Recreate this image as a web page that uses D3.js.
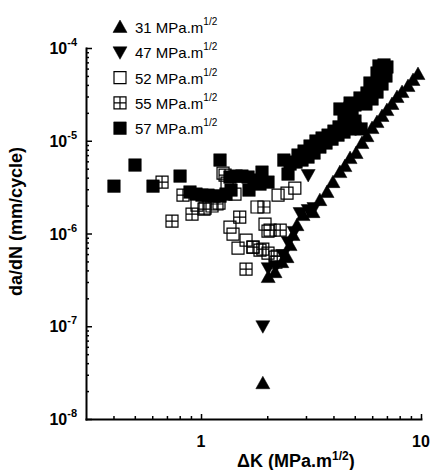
<!DOCTYPE html>
<html>
<head>
<meta charset="utf-8">
<script src="https://cdn.jsdelivr.net/npm/d3@7"></script>
<style>
  body { margin: 0; background: #fff; }
  svg { display: block; font-family: Arial, "Liberation Sans", sans-serif; }
</style>
</head>
<body>
<svg id="chart" width="432" height="470"></svg>
<script>
// dK (MPa.m^1/2), da/dN (mm/cycle)
const s31 = [
  [1.91, 2.43e-8], [2.02, 3.39e-7], [2.17, 3.83e-7], [2.33, 4.91e-7], [2.46, 5.56e-7],
  [2.54, 7.5e-7], [2.62, 9.62e-7], [2.73, 1.23e-6], [2.91, 1.58e-6], [3.23, 1.7e-6],
  [3.47, 2.29e-6], [3.74, 2.8e-6], [3.98, 3.58e-6], [4.28, 4.59e-6], [4.51, 5.33e-6],
  [4.76, 6.5e-6], [5.07, 7.37e-6], [5.39, 9.45e-6], [5.68, 1.12e-5], [5.99, 1.37e-5],
  [6.31, 1.59e-5], [6.65, 1.85e-5], [7.0, 2.14e-5], [7.38, 2.49e-5], [7.78, 2.96e-5],
  [8.2, 3.35e-5], [8.73, 3.89e-5], [9.2, 4.52e-5], [9.69, 5.24e-5]
];
const s47 = [
  [1.91, 1.0e-7], [2.02, 4.23e-7], [2.19, 4.45e-7], [2.36, 5.85e-7], [2.49, 8.07e-7],
  [2.65, 1.04e-6], [2.82, 1.66e-6], [3.07, 1.79e-6], [3.26, 1.88e-6], [3.07, 4.27e-6]
];
const s52 = [
  [0.959, 2.02e-6], [1.043, 1.88e-6], [1.122, 1.98e-6], [1.207, 2.13e-6], [1.259, 4.48e-6],
  [1.313, 3.5e-6], [1.427, 2.66e-6], [1.354, 1.17e-6], [1.398, 9.85e-7], [1.473, 6.96e-7],
  [1.602, 8.49e-7], [1.723, 7.13e-7], [1.797, 1.93e-6], [1.854, 6.62e-7], [1.954, 1.26e-6],
  [2.016, 1.06e-6], [2.016, 6.15e-7], [2.17, 5.56e-7], [2.24, 2.59e-6], [2.46, 2.73e-6],
  [2.67, 3.09e-6], [2.19, 4.91e-7]
];
const s55 = [
  [0.665, 3.58e-6], [0.738, 1.36e-6], [0.828, 2.59e-6], [0.91, 1.62e-6], [1.032, 1.83e-6],
  [1.182, 2.08e-6], [1.286, 4.27e-6], [1.5, 1.5e-6], [1.932, 1.93e-6], [1.723, 7.13e-7],
  [1.91, 6.79e-7], [1.602, 4.13e-7], [2.06, 1.09e-6], [2.29, 1.09e-6], [2.22, 5.7e-7]
];
const s57 = [
  [0.402, 3.24e-6], [0.501, 5.47e-6], [0.605, 3.24e-6], [0.803, 4.16e-6], [1.22, 6.19e-6],
  [0.891, 2.8e-6], [0.949, 2.66e-6], [1.01, 2.59e-6], [1.076, 2.59e-6], [1.146, 2.53e-6],
  [1.22, 2.53e-6], [1.299, 2.66e-6], [1.369, 2.94e-6],
  [1.354, 4.06e-6], [1.443, 4.16e-6], [1.535, 4.16e-6], [1.636, 4.06e-6], [1.652, 2.94e-6],
  [1.741, 3.77e-6], [1.854, 3.41e-6], [1.893, 4.59e-6], [2.016, 3.58e-6],
  [2.38, 6.19e-6], [2.486, 4.37e-6],
  [2.54, 5.61e-6], [2.703, 5.89e-6], [2.878, 6.19e-6], [3.065, 6.67e-6], [3.264, 7.37e-6],
  [3.47, 8.55e-6], [3.7, 9.45e-6], [3.94, 1.04e-5], [4.195, 1.15e-5], [4.467, 1.24e-5],
  [4.76, 1.34e-5], [5.01, 1.37e-5], [5.34, 1.34e-5],
  [2.76, 7.01e-6], [2.94, 7.74e-6], [3.13, 8.77e-6], [3.33, 9.93e-6], [3.55, 1.07e-5],
  [3.78, 1.15e-5], [4.02, 1.27e-5], [4.24, 1.41e-5],
  [4.28, 2.2e-5], [4.76, 2.55e-5], [5.28, 2.89e-5], [5.68, 3.27e-5], [5.86, 4.19e-5],
  [6.31, 5.37e-5], [6.44, 6.4e-5], [6.79, 6.56e-5], [7.0, 6.24e-5],
  [6.93, 4.99e-5], [6.65, 4.09e-5], [6.31, 3.35e-5], [5.99, 2.82e-5], [5.62, 2.49e-5],
  [4.51, 2.04e-5], [4.76, 2.25e-5], [5.01, 2.43e-5], [5.39, 2.75e-5], [5.74, 3.03e-5],
  [5.99, 3.52e-5], [6.24, 4.09e-5], [6.51, 4.75e-5], [6.79, 5.51e-5],
  [4.467, 1.67e-5], [4.66, 1.76e-5], [4.86, 1.85e-5], [4.56, 1.37e-5], [4.86, 1.48e-5],
  [5.01, 1.63e-5]
];

const legendLabels = ["31", "47", "52", "55", "57"];
const xMajor = [1, 10];
const xMinor = [0.4, 0.5, 0.6, 0.7, 0.8, 0.9, 2, 3, 4, 5, 6, 7, 8, 9];
const yMajor = [1e-8, 1e-7, 1e-6, 1e-5, 1e-4];

const svg = d3.select("#chart");
const x = d3.scaleLog().domain([0.3, 10]).range([86, 421]);
const y = d3.scaleLog().domain([1e-8, 1e-4]).range([419, 48]);

const yMinor = yMajor.slice(0, -1).flatMap(d => d3.range(2, 10).map(k => k * d));

// marker shapes
const shapes = {
  up: "M0,-7L7,5.5L-7,5.5Z",
  down: "M0,7L7,-5.5L-7,-5.5Z",
  open: "M-6,-6H6V6H-6Z",
  grid: "M-6,-6H6V6H-6ZM0,-6V6M-6,0H6",
  fill: "M-6.3,-6.3H6.3V6.3H-6.3Z"
};
const seriesList = [
  { data: s31, shape: "up", filled: true },
  { data: s47, shape: "down", filled: true },
  { data: s52, shape: "open", filled: false },
  { data: s55, shape: "grid", filled: false },
  { data: s57, shape: "fill", filled: true }
];

function styleMark(sel, s) {
  sel.attr("d", shapes[s.shape])
    .style("fill", s.filled ? "#000" : "none")
    .style("stroke", "#000")
    .style("stroke-width", s.filled ? 0.5 : 1.2);
}

// axes: minor + major ticks pointing inward
const gxMinor = svg.append("g").attr("transform", `translate(0,${y(1e-8)})`)
  .call(d3.axisBottom(x).tickValues(xMinor).tickSize(-3).tickFormat(""));
gxMinor.select(".domain").remove();
const gx = svg.append("g").attr("transform", `translate(0,${y(1e-8)})`)
  .call(d3.axisBottom(x).tickValues(xMajor).tickSize(-5).tickSizeOuter(0).tickFormat(""));

const gyMinor = svg.append("g").attr("transform", `translate(${x(0.3)},0)`)
  .call(d3.axisLeft(y).tickValues(yMinor).tickSize(-3).tickFormat(""));
gyMinor.select(".domain").remove();
const gy = svg.append("g").attr("transform", `translate(${x(0.3)},0)`)
  .call(d3.axisLeft(y).tickValues(yMajor).tickSize(-6).tickSizeOuter(0).tickFormat(""));

svg.selectAll(".domain").style("stroke", "#000").style("stroke-width", 2).style("stroke-linecap", "square");
svg.selectAll(".tick line").style("stroke", "#000").style("stroke-width", 1.5);

// tick labels
const yLab = svg.append("g").selectAll("text").data(yMajor).enter().append("text")
  .attr("x", x(0.3) - 9)
  .attr("y", d => y(d) + 6)
  .attr("text-anchor", "end")
  .style("font-size", "16px")
  .style("font-weight", "bold");
yLab.append("tspan").text("10");
yLab.append("tspan").attr("dy", -8).style("font-size", "11px").text(d => Math.round(Math.log10(d)));

svg.append("g").selectAll("text").data(xMajor).enter().append("text")
  .attr("x", d => x(d))
  .attr("y", y(1e-8) + 28)
  .attr("text-anchor", "middle")
  .style("font-size", "16px")
  .style("font-weight", "bold")
  .text(d => d);

// axis titles
const xt = svg.append("text")
  .attr("x", 237)
  .attr("y", 467)
  .style("font-size", "18px")
  .style("font-weight", "bold");
xt.append("tspan").text("\u0394K (MPa.m");
xt.append("tspan").attr("dy", -7).style("font-size", "12px").text("1/2");
xt.append("tspan").attr("dy", 7).text(")");

svg.append("text")
  .attr("transform", "translate(22,147) rotate(-90)")
  .attr("text-anchor", "end")
  .style("font-size", "18px")
  .style("font-weight", "bold")
  .text("da/dN (mm/cycle)");

// data
seriesList.forEach(s => {
  svg.append("g").selectAll("path").data(s.data).enter().append("path")
    .attr("transform", d => `translate(${x(d[0])},${y(d[1])})`)
    .call(styleMark, s);
});

// legend
const leg = svg.append("g").selectAll("g").data(seriesList).enter().append("g")
  .attr("transform", (d, i) => `translate(120,${27 + i * 25.3})`);
leg.append("path").each(function (s) { d3.select(this).call(styleMark, s); });
const lt = leg.append("text")
  .attr("x", 15)
  .attr("y", 6)
  .style("font-size", "15px");
lt.append("tspan").text((d, i) => legendLabels[i] + " MPa.m");
lt.append("tspan").attr("dy", -8).style("font-size", "10px").text("1/2");
</script>
</body>
</html>
